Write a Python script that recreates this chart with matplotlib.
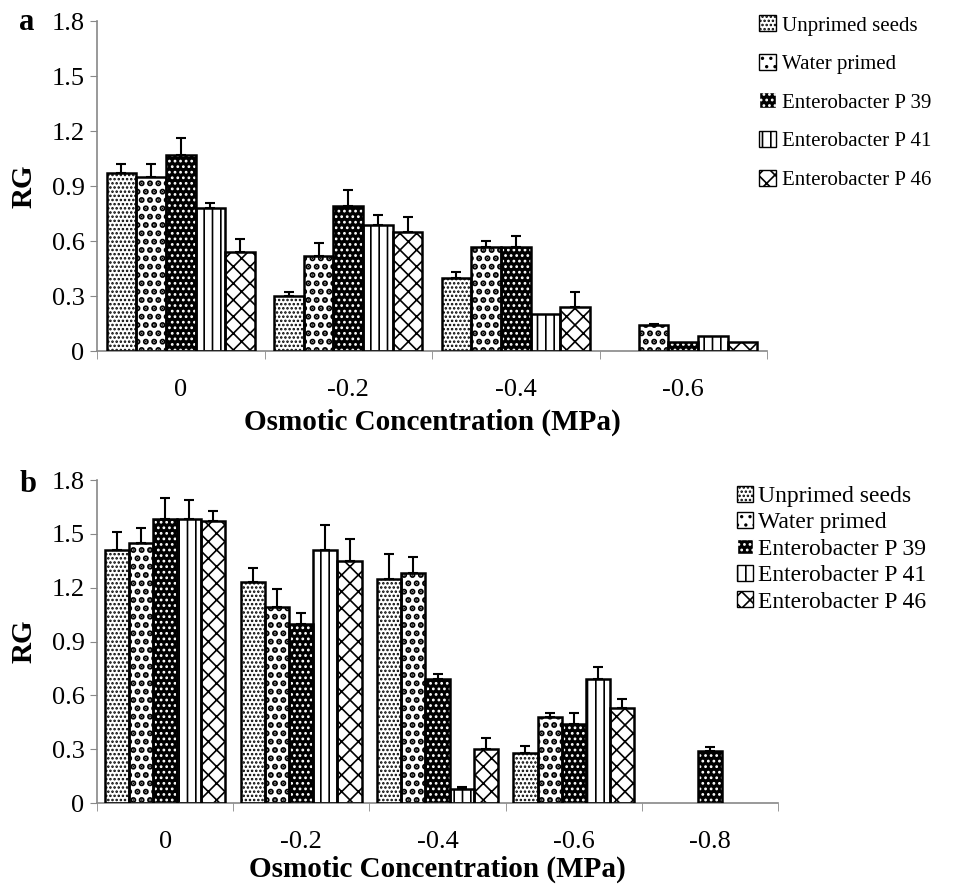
import numpy as np
import matplotlib
matplotlib.use("Agg")
import matplotlib.pyplot as plt
from matplotlib.patches import Patch

plt.rcParams['font.family'] = ['Liberation Serif', 'DejaVu Serif']
plt.rcParams['hatch.linewidth'] = 1.2

series = ["Unprimed seeds", "Water primed", "Enterobacter P 39",
          "Enterobacter P 41", "Enterobacter P 46"]

# panel a
cats_a = ["0", "-0.2", "-0.4", "-0.6"]
vals_a = [
    [0.97, 0.30, 0.40, 0.0],
    [0.95, 0.52, 0.57, 0.14],
    [1.07, 0.79, 0.57, 0.05],
    [0.78, 0.69, 0.20, 0.08],
    [0.54, 0.65, 0.24, 0.05],
]
err_a = [
    [0.05, 0.02, 0.03, 0.0],
    [0.07, 0.07, 0.03, 0.01],
    [0.09, 0.09, 0.06, 0.0],
    [0.03, 0.05, 0.0, 0.0],
    [0.07, 0.08, 0.08, 0.0],
]

# panel b
cats_b = ["0", "-0.2", "-0.4", "-0.6", "-0.8"]
vals_b = [
    [1.41, 1.23, 1.25, 0.28, 0.0],
    [1.45, 1.09, 1.28, 0.48, 0.0],
    [1.58, 1.00, 0.69, 0.44, 0.29],
    [1.58, 1.41, 0.08, 0.69, 0.0],
    [1.57, 1.35, 0.30, 0.53, 0.0],
]
err_b = [
    [0.10, 0.08, 0.14, 0.04, 0.0],
    [0.08, 0.10, 0.09, 0.02, 0.0],
    [0.12, 0.06, 0.03, 0.06, 0.02],
    [0.11, 0.14, 0.01, 0.07, 0.0],
    [0.06, 0.12, 0.06, 0.05, 0.0],
]

# hatch / colours per series (hlw = hatch line width, bigger dots for water primed)
styles = [
    dict(face="white", hcol="black", hatch="....", hlw=1.2),
    dict(face="white", hcol="black", hatch="..", hlw=3.0),
    dict(face="black", hcol="white", hatch="...", hlw=1.2),
    dict(face="white", hcol="black", hatch="||", hlw=1.2),
    dict(face="white", hcol="black", hatch="xx", hlw=1.2),
]

fig = plt.figure(figsize=(9.73, 8.84), dpi=100)
ax_a = fig.add_axes([0.0997, 0.6029, 0.6886, 0.3733])
ax_b = fig.add_axes([0.0997, 0.0916, 0.6999, 0.3654])

width = 0.177


def draw(ax, cats, vals, errs):
    x = np.arange(len(cats))
    for i in range(5):
        pos = x + (i - 2) * width
        v = np.array(vals[i])
        e = np.array(errs[i])
        mask = v > 0
        st = styles[i]
        plt.rcParams['hatch.linewidth'] = st["hlw"]
        ax.bar(pos[mask], v[mask], width, color=st["face"], edgecolor=st["hcol"],
               hatch=st["hatch"], linewidth=0, zorder=2)
        ax.bar(pos[mask], v[mask], width, fill=False, edgecolor="black",
               linewidth=1.8, zorder=3)
        em = mask & (e > 0)
        ax.errorbar(pos[em], v[em], yerr=[np.zeros(em.sum()), e[em]], fmt="none",
                    ecolor="black", elinewidth=1.5, capsize=3.5, capthick=1.5, zorder=4)
    plt.rcParams['hatch.linewidth'] = 1.2
    ax.set_xlim(-0.5, len(cats) - 0.5)
    ax.set_ylim(0, 1.8)
    ax.set_yticks(np.arange(0, 1.81, 0.3))
    ax.set_yticklabels(["0", "0.3", "0.6", "0.9", "1.2", "1.5", "1.8"])
    ax.set_xticks(x)
    ax.set_xticklabels(cats)
    ax.set_xticks(np.arange(len(cats) + 1) - 0.5, minor=True)
    ax.tick_params(axis="x", which="major", length=0, pad=20, labelsize=19)
    ax.tick_params(axis="x", which="minor", length=6, color="#888888", direction="out")
    ax.tick_params(axis="y", length=5, color="#888888", labelsize=19, pad=4)
    for s in ["top", "right"]:
        ax.spines[s].set_visible(False)
    for s in ["left", "bottom"]:
        ax.spines[s].set_color("#888888")
        ax.spines[s].set_linewidth(1.2)
    ax.set_ylabel("RG", fontsize=21, fontweight="bold", labelpad=10)


def handles():
    hs = []
    for i, st in enumerate(styles):
        plt.rcParams['hatch.linewidth'] = st["hlw"]
        hs.append(Patch(facecolor=st["face"], edgecolor=st["hcol"], hatch=st["hatch"],
                        label=series[i]))
    plt.rcParams['hatch.linewidth'] = 1.2
    return hs


draw(ax_a, cats_a, vals_a, err_a)
draw(ax_b, cats_b, vals_b, err_b)

ax_a.set_xlabel("Osmotic Concentration (MPa)", fontsize=21, fontweight="bold", labelpad=6)
ax_b.set_xlabel("Osmotic Concentration (MPa)", fontsize=21, fontweight="bold", labelpad=2)

leg_a = fig.legend(handles=handles(), loc="upper left", bbox_to_anchor=(0.772, 0.992),
                   frameon=False, fontsize=15, handlelength=0.8, handleheight=0.8,
                   handletextpad=0.3, labelspacing=0.88, borderaxespad=0)
leg_b = fig.legend(handles=handles(), loc="upper left", bbox_to_anchor=(0.748, 0.461),
                   frameon=False, fontsize=17, handlelength=0.65, handleheight=0.65,
                   handletextpad=0.25, labelspacing=0.22, borderaxespad=0)

fig.text(0.02, 0.975, "a", fontsize=22, fontweight="bold", va="center")
fig.text(0.02, 0.452, "b", fontsize=22, fontweight="bold", va="center")

fig.savefig("out.png", dpi=100)
